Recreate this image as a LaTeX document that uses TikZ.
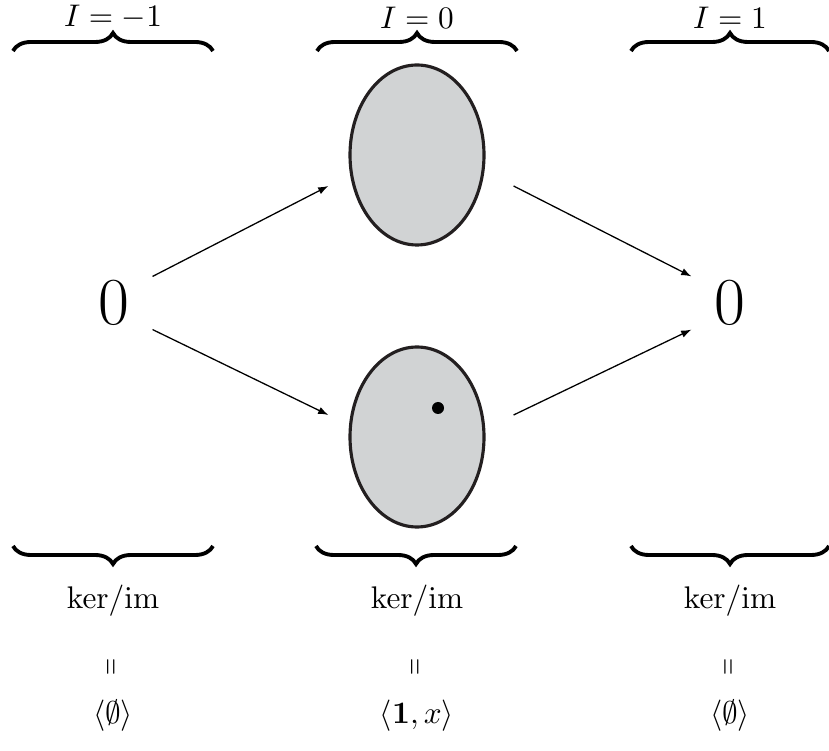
\documentclass[tikz,border=0pt]{standalone}
\usepackage{graphicx}
\usetikzlibrary{arrows.meta,decorations.pathreplacing,shapes.geometric}
\definecolor{blobgray}{RGB}{209,211,212}
\definecolor{blobline}{RGB}{35,31,32}
\begin{document}
\begin{tikzpicture}[x=0.35pt,y=-0.35pt,
  brc/.style={decorate,decoration={brace,amplitude=6.3pt},line width=1.35pt},
  blob/.style={ellipse,draw=blobline,line width=1.1pt,fill=blobgray,minimum width=46.9pt,minimum height=63pt,inner sep=0pt},
  zero/.style={font=\fontsize{23.5}{27}\selectfont,minimum width=26.6pt,minimum height=18.2pt,inner sep=0pt},
  arr/.style={-{Latex[length=3.6pt,width=2.6pt]},line width=0.45pt},
  lbl/.style={inner sep=0pt,font=\fontsize{10.95}{13}\selectfont}]
\useasboundingbox (0,0) rectangle (829,751);

% top labels and braces
\node[lbl] (t1) at (113,17.5) {$I=-1$};
\node[lbl] (t2) at (417,17.5) {$I=0$};
\node[lbl] (t3) at (730,17.5) {$I=1$};
\coordinate (tb1a) at (13,51);  \coordinate (tb1b) at (213,51);
\coordinate (tb2a) at (317,51); \coordinate (tb2b) at (517,51);
\coordinate (tb3a) at (631,51); \coordinate (tb3b) at (829,51);
\draw[brc] (tb1a) -- (tb1b);
\draw[brc] (tb2a) -- (tb2b);
\draw[brc] (tb3a) -- (tb3b);

% main objects
\node[zero] (z1) at (114,303) {0};
\node[zero] (z2) at (730,303) {0};
\node[blob] (e1) at (417,155) {};
\node[blob] (e2) at (417,437) {};
\node[circle,fill=black,inner sep=0pt,minimum size=4.2pt] (dot) at (438,408) {};

% arrows
\draw[arr] (z1.north east) -- ([shift={(-20,31)}]e1.west);
\draw[arr] (z1.south east) -- ([shift={(-20,-22)}]e2.west);
\draw[arr] ([shift={(28,31)}]e1.east) -- (z2.north west);
\draw[arr] ([shift={(28,-22)}]e2.east) -- (z2.south west);

% bottom braces
\coordinate (bb1a) at (213,546); \coordinate (bb1b) at (13,546);
\coordinate (bb2a) at (516,546); \coordinate (bb2b) at (316,546);
\coordinate (bb3a) at (829,546); \coordinate (bb3b) at (631,546);
\draw[brc] (bb1a) -- (bb1b);
\draw[brc] (bb2a) -- (bb2b);
\draw[brc] (bb3a) -- (bb3b);

% bottom labels
\foreach \x/\n/\t in {113/1/{\langle\emptyset\rangle},417/2/{\langle\mathbf{1},x\rangle},730/3/{\langle\emptyset\rangle}}{
  \node[lbl] (k\n) at (\x,601) {$\mathrm{ker/im}$};
  \node[lbl] (q\n) at (\x,667) {\rotatebox{90}{\scalebox{0.7}[1]{$=$}}};
  \node[lbl] (v\n) at (\x,716) {$\t$};
}
\end{tikzpicture}
\end{document}
